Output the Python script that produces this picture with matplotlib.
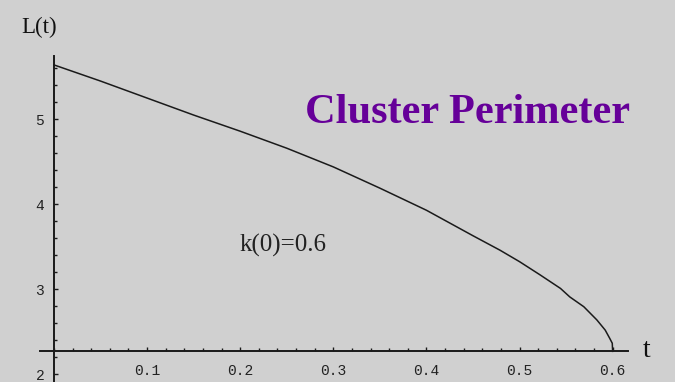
import matplotlib
matplotlib.use("Agg")
import matplotlib.pyplot as plt
from matplotlib.ticker import MultipleLocator, FixedLocator

# Data
t_vals = [0.0, 0.05, 0.1, 0.15, 0.2, 0.25, 0.3, 0.35, 0.4, 0.45, 0.479, 0.5,
          0.522, 0.544, 0.554, 0.569, 0.583, 0.592, 0.597, 0.5996, 0.6]
L_vals = [5.64, 5.45, 5.25, 5.05, 4.86, 4.66, 4.44, 4.19, 3.93, 3.63, 3.46, 3.325,
          3.17, 3.01, 2.91, 2.795, 2.64, 2.52, 2.42, 2.365, 2.27]
x_ticks = [0.1, 0.2, 0.3, 0.4, 0.5, 0.6]
x_tick_labels = ["0.1", "0.2", "0.3", "0.4", "0.5", "0.6"]
y_ticks = [2, 3, 4, 5]
y_tick_labels = ["2", "3", "4", "5"]
title_text = "Cluster Perimeter"
annot_text = "k(0)=0.6"
ylabel_text = "L(t)"
xlabel_text = "t"

W, H = 675, 382
bg = "#d0d0d0"
fig = plt.figure(figsize=(W / 100, H / 100), dpi=100, facecolor=bg)

ax = fig.add_axes([40 / W, 0.0, (628 - 40) / W, (382 - 56) / H])
ax.set_facecolor("none")
ax.set_xlim(-0.01504, 0.6165)
ax.set_ylim(1.909, 5.745)

ax.plot(t_vals, L_vals, color="#1a1a1a", lw=1.1, solid_joinstyle="round")

for s in ["top", "right"]:
    ax.spines[s].set_visible(False)
ax.spines["left"].set_position(("data", 0))
ax.spines["bottom"].set_position(("data", 2.27))
for s in ["left", "bottom"]:
    ax.spines[s].set_linewidth(1.4)
    ax.spines[s].set_color("#1a1a1a")

ax.xaxis.set_major_locator(FixedLocator(x_ticks))
ax.set_xticklabels(x_tick_labels)
ax.xaxis.set_minor_locator(MultipleLocator(0.02))
ax.yaxis.set_major_locator(FixedLocator(y_ticks))
ax.set_yticklabels(y_tick_labels)
ax.yaxis.set_minor_locator(MultipleLocator(0.2))

ax.tick_params(axis="both", which="major", direction="in", length=3, width=1.0, color="#1a1a1a")
ax.tick_params(axis="both", which="minor", direction="in", length=2, width=1.0, color="#1a1a1a")
ax.tick_params(axis="x", which="major", pad=9)
ax.tick_params(axis="y", which="major", pad=7)
for lab in ax.get_xticklabels() + ax.get_yticklabels():
    lab.set_family("Liberation Mono")
    lab.set_fontsize(10.5)
    lab.set_color("#222222")

ax.text(0.246, 3.52, annot_text, family="Liberation Serif", fontsize=18,
        ha="center", va="center", color="#222222")

fig.text(305 / W, 1 - 123 / H, title_text, family="Liberation Serif", fontweight="bold",
         fontsize=30.5, color="#660099", ha="left", va="baseline")
fig.text(21 / W, 1 - 33 / H, ylabel_text, family="Liberation Serif", fontsize=16.5,
         color="#111111", ha="left", va="baseline")
fig.text(643 / W, 1 - 357 / H, xlabel_text, family="Liberation Serif", fontsize=20,
         color="#111111", ha="left", va="baseline")

fig.savefig("out.png", dpi=100, facecolor=bg)
